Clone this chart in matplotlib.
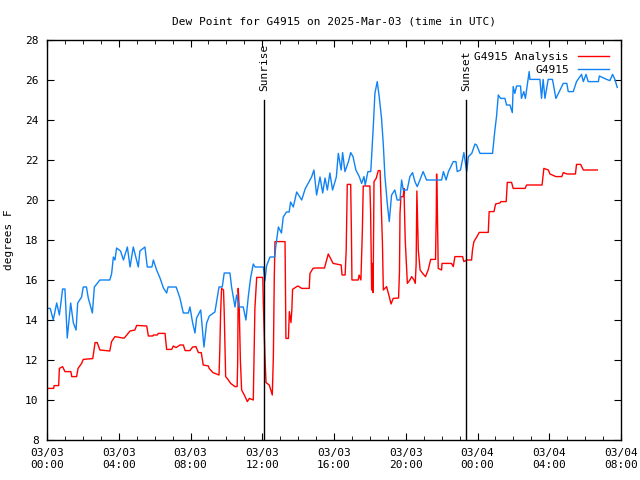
import matplotlib
matplotlib.use("Agg")
import matplotlib.pyplot as plt
from matplotlib.ticker import MultipleLocator

# hours since 2025-03-03 00:00 UTC
obs_hours = [
    0, 0.18, 0.35, 0.54, 0.69, 0.87, 1.0, 1.13, 1.32, 1.47, 1.62, 1.71, 1.93, 2.02,
    2.2, 2.3, 2.53, 2.64, 2.95, 3.5, 3.6, 3.7, 3.79, 3.88, 4.1, 4.26, 4.48, 4.63,
    4.81, 5.09, 5.18, 5.46, 5.59, 5.85, 5.93, 6.11, 6.3, 6.49, 6.67, 6.75, 7.04,
    7.2, 7.41, 7.6, 7.88, 7.97, 8.12, 8.25, 8.34, 8.57, 8.75, 8.9, 9.05, 9.36,
    9.59, 9.77, 9.88, 10.2, 10.29, 10.48, 10.57, 10.72, 10.94, 11.09, 11.22,
    11.35, 11.5, 11.6, 12.06, 12.15, 12.24, 12.43, 12.7, 12.75, 12.9, 13.07,
    13.17, 13.35, 13.5, 13.58, 13.73, 13.92, 14.2, 14.39, 14.57, 14.75, 14.88,
    15.03, 15.22, 15.37, 15.5, 15.63, 15.77, 15.92, 16.13, 16.24, 16.4, 16.48,
    16.61, 16.8, 16.93, 17.06, 17.22, 17.41, 17.54, 17.67, 17.74, 17.89, 18.05,
    18.19, 18.28, 18.41, 18.52, 18.65, 18.75, 18.84, 18.97, 19.08, 19.21, 19.39,
    19.52, 19.68, 19.77, 19.86, 20.08, 20.23, 20.38, 20.51, 20.64, 20.79, 20.97,
    21.16, 22.0, 22.1, 22.25, 22.38, 22.65, 22.8, 22.87, 23.05, 23.24, 23.4,
    23.49, 23.68, 23.86, 23.95, 24.14, 24.84, 24.97, 25.06, 25.16, 25.29, 25.53,
    25.62, 25.81, 25.94, 25.99, 26.08, 26.18, 26.4, 26.45, 26.58, 26.67, 26.88,
    26.92, 27.48, 27.57, 27.66, 27.76, 27.94, 28.18, 28.37, 28.56, 28.78, 28.98,
    29.06, 29.34, 29.52, 29.8, 29.9, 30.05, 30.17, 30.74, 30.79, 31.2, 31.38,
    31.53, 31.66, 31.79,
]
obs_dewpt = [
    14.58, 14.58, 14.0, 14.85, 14.25, 15.55, 15.55, 13.1, 14.85, 13.85, 13.5, 14.85,
    15.15, 15.65, 15.65, 15.1, 14.35, 15.65, 16.0, 16.0, 16.3, 17.15, 17.0, 17.6,
    17.45, 17.0, 17.65, 16.65, 17.65, 16.65, 17.45, 17.65, 16.65, 16.65, 17.0,
    16.5, 16.1, 15.6, 15.35, 15.65, 15.65, 15.65, 15.1, 14.35, 14.35, 14.65, 13.85,
    13.35, 14.1, 14.5, 12.65, 13.85, 14.2, 14.4, 15.65, 15.65, 16.35, 16.35, 15.65,
    14.65, 15.25, 14.65, 14.65, 14.0, 15.15, 16.1, 16.8, 16.65, 16.65, 15.97, 16.7,
    17.15, 17.15, 17.65, 18.65, 18.35, 19.15, 19.4, 19.4, 19.9, 19.65, 20.4, 20.0,
    20.55, 20.85, 21.15, 21.5, 20.25, 21.15, 20.35, 21.1, 20.5, 21.35, 20.5, 21.15,
    22.33, 21.5, 22.37, 21.42, 21.9, 22.37, 22.17, 21.5, 21.17, 20.83, 21.17, 20.75,
    21.42, 21.42, 23.67, 25.33, 25.92, 25.17, 24.08, 22.75, 21.17, 19.83, 18.92,
    20.25, 20.5, 20.0, 20.0, 21.0, 20.5, 20.5, 21.17, 21.37, 20.92, 20.67, 21.0,
    21.42, 21.0, 21.0, 21.42, 21.0, 21.42, 21.92, 21.92, 21.42, 21.5, 22.37, 21.42,
    22.17, 22.33, 22.8, 22.75, 22.33, 22.33, 23.5, 24.17, 25.25, 25.08, 25.08, 24.75,
    24.75, 24.37, 25.67, 25.33, 25.7, 25.7, 25.08, 25.42, 25.08, 26.42, 26.03, 26.03,
    25.08, 26.03, 25.08, 26.03, 26.03, 25.08, 25.42, 25.83, 25.83, 25.42, 25.42,
    25.92, 26.28, 25.92, 26.28, 25.92, 25.92, 26.2, 26.03, 25.97, 26.28, 26.03, 25.63,
]

ana_hours = [
    0, 0.37, 0.4, 0.65, 0.69, 0.87, 1.0, 1.33, 1.38, 1.65, 1.73, 1.93, 2.02, 2.55,
    2.68, 2.8, 2.95, 3.5, 3.6, 3.79, 4.22, 4.31, 4.63, 4.9, 5.0, 5.56, 5.65, 5.9,
    5.93, 6.15, 6.2, 6.58, 6.67, 6.95, 7.04, 7.2, 7.41, 7.6, 7.7, 7.97, 8.12, 8.3,
    8.44, 8.6, 8.71, 9.0, 9.04, 9.25, 9.59, 9.63, 9.68, 9.73, 9.84, 9.88, 9.96,
    10.11, 10.24, 10.48, 10.6, 10.63, 10.66, 10.72, 10.78, 10.85, 11.0, 11.17,
    11.28, 11.5, 11.59, 11.69, 12.03, 12.06, 12.15, 12.21, 12.39, 12.56, 12.62,
    12.67, 12.71, 13.27, 13.32, 13.46, 13.51, 13.6, 13.65, 13.69, 13.92, 14.0,
    14.2, 14.62, 14.66, 14.83, 14.93, 15.47, 15.68, 15.85, 15.95, 16.4, 16.45,
    16.62, 16.68, 16.72, 16.74, 16.93, 16.97, 17.0, 17.35, 17.4, 17.5, 17.58,
    17.63, 18.0, 18.04, 18.1, 18.15, 18.18, 18.23, 18.35, 18.47, 18.57, 18.6,
    18.7, 18.75, 18.93, 19.08, 19.18, 19.3, 19.6, 19.65, 19.68, 19.73, 19.86,
    19.9, 19.97, 20.09, 20.23, 20.33, 20.46, 20.53, 20.58, 20.62, 20.7, 20.8,
    20.97, 21.1, 21.25, 21.39, 21.66, 21.7, 21.72, 21.76, 21.81, 22.0, 22.02,
    22.55, 22.65, 22.74, 23.17, 23.24, 23.4, 23.67, 23.72, 23.8, 23.97, 24.1,
    24.6, 24.65, 24.92, 25.01, 25.25, 25.3, 25.6, 25.66, 25.9, 25.99, 26.65,
    26.74, 27.6, 27.7, 27.95, 28.04, 28.37, 28.7, 28.78, 29.0, 29.46, 29.52,
    29.75, 29.9, 30.17, 30.68,
]
ana_dewpt = [
    10.58, 10.58, 10.72, 10.72, 11.58, 11.67, 11.42, 11.42, 11.17, 11.17, 11.58,
    11.83, 12.03, 12.07, 12.87, 12.87, 12.5, 12.45, 12.92, 13.17, 13.1, 13.1, 13.45,
    13.5, 13.73, 13.7, 13.2, 13.2, 13.25, 13.25, 13.33, 13.33, 12.53, 12.53, 12.7,
    12.62, 12.75, 12.75, 12.47, 12.47, 12.65, 12.67, 12.37, 12.37, 11.75, 11.7,
    11.58, 11.37, 11.25, 12.37, 14.37, 15.58, 15.5, 14.37, 11.17, 11.0, 10.83,
    10.67, 10.67, 11.87, 15.58, 14.5, 12.0, 10.5, 10.25, 9.92, 10.08, 10.0, 14.58,
    16.13, 16.13, 14.83, 12.17, 10.87, 10.75, 10.25, 12.17, 16.08, 17.92, 17.92,
    13.08, 13.08, 14.42, 13.87, 14.5, 15.53, 15.67, 15.7, 15.58, 15.58, 16.33,
    16.58, 16.6, 16.6, 17.3, 17.0, 16.83, 16.75, 16.25, 16.25, 17.5, 19.67, 20.78,
    20.78, 18.42, 16.0, 16.0, 16.25, 16.0, 18.42, 20.7, 20.7, 19.42, 15.5, 16.83,
    15.37, 20.92, 21.08, 21.47, 21.47, 20.67, 17.87, 15.5, 15.67, 15.17, 14.8,
    15.08, 15.1, 16.42, 19.33, 20.17, 20.17, 20.58, 18.0, 15.83, 16.0, 16.17, 16.0,
    15.83, 16.83, 20.45, 17.5, 16.5, 16.3, 16.17, 16.5, 17.03, 17.03, 19.17, 21.3,
    19.67, 16.58, 16.5, 16.83, 16.83, 16.67, 17.17, 17.17, 16.92, 17.0, 17.0, 17.5,
    17.92, 18.17, 18.38, 18.38, 19.42, 19.42, 19.8, 19.85, 19.92, 19.92, 20.88,
    20.88, 20.58, 20.58, 20.75, 20.75, 21.58, 21.5, 21.3, 21.17, 21.17, 21.37, 21.3,
    21.3, 21.78, 21.78, 21.5, 21.5, 21.5,
]

sun_events = ["Sunrise", "Sunset"]
sun_hours = [12.1, 23.36]

x_tick_hours = [0, 4, 8, 12, 16, 20, 24, 28, 32]
x_tick_labels = ["03/03\n00:00", "03/03\n04:00", "03/03\n08:00", "03/03\n12:00",
                 "03/03\n16:00", "03/03\n20:00", "03/04\n00:00", "03/04\n04:00",
                 "03/04\n08:00"]

plt.rcParams["font.family"] = "DejaVu Sans Mono"
plt.rcParams["font.size"] = 8

fig = plt.figure(figsize=(6.4, 4.8), dpi=100)
ax = fig.add_axes([47 / 640, 40 / 480, 574 / 640, 400 / 480])

ax.plot(ana_hours, ana_dewpt, color="#ff0000", lw=1.0, label="G4915 Analysis")
ax.plot(obs_hours, obs_dewpt, color="#0f83f5", lw=1.0, label="G4915")

for name, h in zip(sun_events, sun_hours):
    ax.plot([h, h], [8, 25], color="black", lw=1.0)
    ax.text(h, 25.45, name, rotation=90, ha="center", va="bottom", fontsize=8)

ax.set_xlim(0, 32)
ax.set_ylim(8, 28)
ax.set_xticks(x_tick_hours)
ax.set_xticklabels(x_tick_labels)
ax.xaxis.set_minor_locator(MultipleLocator(1))
ax.yaxis.set_major_locator(MultipleLocator(2))
ax.tick_params(which="both", direction="in", top=True, right=True, pad=6)
ax.tick_params(which="major", length=5)
ax.tick_params(which="minor", length=3)
for s in ax.spines.values():
    s.set_linewidth(1.0)

ax.set_ylabel("degrees F")
ax.yaxis.set_label_coords(-0.057, 0.5)
ax.set_title("Dew Point for G4915 on 2025-Mar-03 (time in UTC)", fontsize=8, pad=11)

ax.legend(loc="upper right", frameon=False, markerfirst=False, handlelength=2.8,
          borderaxespad=0.7, labelspacing=0.25, handletextpad=0.8, fontsize=8)

fig.savefig("out.png", dpi=100)
